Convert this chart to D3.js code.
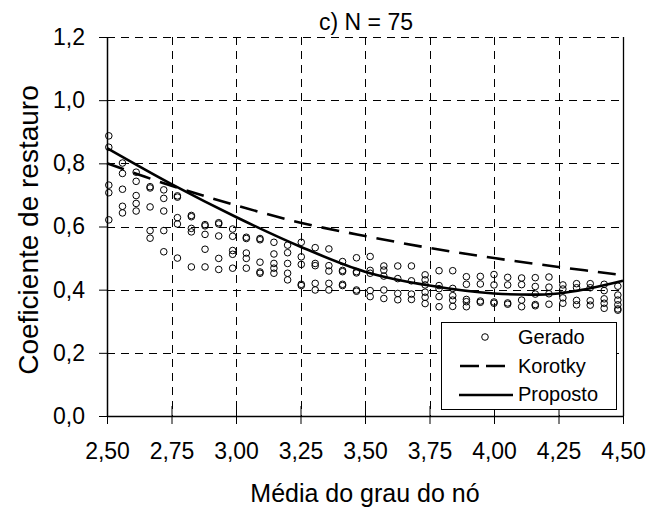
<!DOCTYPE html>
<html>
<head>
<meta charset="utf-8">
<script src="https://cdn.jsdelivr.net/npm/d3@7"></script>
<style>
  html, body { margin: 0; padding: 0; background: #fff; }
  svg { display: block; font-family: "Liberation Sans", Arial, sans-serif; }
</style>
</head>
<body>
<svg id="chart" width="650" height="510"></svg>
<script>
// Mean node degree of each generated network group (x columns)
const degreeColumns = [2.507, 2.560, 2.613, 2.667, 2.720, 2.773, 2.827, 2.880, 2.933, 2.987,
  3.040, 3.093, 3.147, 3.200, 3.253, 3.307, 3.360, 3.413, 3.467, 3.520,
  3.573, 3.627, 3.680, 3.733, 3.787, 3.840, 3.893, 3.947, 4.000, 4.053,
  4.107, 4.160, 4.213, 4.267, 4.320, 4.373, 4.427, 4.480];

// Restoration coefficient of the generated networks, one list per column
const geradoValues = [
  [0.887, 0.851, 0.731, 0.707, 0.621],
  [0.801, 0.768, 0.718, 0.664, 0.643],
  [0.772, 0.743, 0.698, 0.673, 0.649],
  [0.726, 0.722, 0.662, 0.587, 0.563],
  [0.716, 0.689, 0.649, 0.587, 0.520],
  [0.697, 0.693, 0.628, 0.608, 0.500],
  [0.635, 0.631, 0.594, 0.583, 0.472],
  [0.606, 0.602, 0.575, 0.528, 0.472],
  [0.612, 0.608, 0.570, 0.499, 0.464],
  [0.592, 0.569, 0.524, 0.512, 0.468],
  [0.566, 0.562, 0.516, 0.499, 0.468],
  [0.562, 0.558, 0.487, 0.456, 0.452],
  [0.550, 0.513, 0.483, 0.468, 0.452],
  [0.541, 0.517, 0.483, 0.452, 0.431],
  [0.550, 0.504, 0.480, 0.417, 0.413],
  [0.533, 0.483, 0.476, 0.420, 0.399],
  [0.529, 0.476, 0.459, 0.420, 0.399],
  [0.489, 0.461, 0.457, 0.417, 0.413],
  [0.501, 0.457, 0.453, 0.399, 0.395],
  [0.505, 0.461, 0.452, 0.397, 0.378],
  [0.475, 0.462, 0.443, 0.399, 0.372],
  [0.475, 0.435, 0.388, 0.368],
  [0.475, 0.428, 0.386, 0.369],
  [0.447, 0.431, 0.415, 0.392, 0.376, 0.356],
  [0.460, 0.413, 0.403, 0.378, 0.346],
  [0.460, 0.404, 0.381, 0.367, 0.347],
  [0.441, 0.417, 0.369, 0.362, 0.346],
  [0.442, 0.418, 0.364, 0.360],
  [0.448, 0.415, 0.361, 0.357],
  [0.439, 0.415, 0.358, 0.354],
  [0.437, 0.416, 0.367, 0.346],
  [0.438, 0.410, 0.386, 0.353, 0.349],
  [0.440, 0.408, 0.387, 0.354],
  [0.415, 0.402, 0.374, 0.357],
  [0.419, 0.406, 0.366, 0.352],
  [0.419, 0.406, 0.365, 0.351],
  [0.417, 0.397, 0.371, 0.357, 0.341],
  [0.411, 0.383, 0.367, 0.352, 0.339, 0.335]
];

// Model curves
const curveDegree = [2.50, 2.75, 3.00, 3.25, 3.50, 3.75, 4.00, 4.25, 4.50];
const korotkyValues = [0.800, 0.729, 0.667, 0.612, 0.570, 0.532, 0.500, 0.472, 0.446];
const propostoValues = [0.848, 0.734, 0.630, 0.536, 0.457, 0.413, 0.388, 0.388, 0.428];

// Axis ticks
const xTicks = [2.50, 2.75, 3.00, 3.25, 3.50, 3.75, 4.00, 4.25, 4.50];
const yTicks = [0.0, 0.2, 0.4, 0.6, 0.8, 1.0, 1.2];

const titleText = "c) N = 75";
const xTitle = "Média do grau do nó";
const yTitle = "Coeficiente de restauro";
const legendLabels = ["Gerado", "Korotky", "Proposto"];

const locale = d3.formatLocale({ decimal: ",", thousands: ".", grouping: [3], currency: ["", ""] });
const fmtX = locale.format(".2f");
const fmtY = locale.format(".1f");

const svg = d3.select("#chart");
const L = 107, R = 623, T = 37, B = 416;

const x = d3.scaleLinear().domain([2.5, 4.5]).range([L, R]);
const y = d3.scaleLinear().domain([0, 1.2]).range([B, T]);

// Dashed grid
const grid = svg.append("g").attr("stroke", "#000").attr("stroke-width", 1)
  .attr("stroke-dasharray", "8,6").attr("fill", "none");
grid.selectAll("line.v").data(xTicks.slice(1, -1)).join("line")
  .attr("x1", d => Math.round(x(d)) + 0.5).attr("x2", d => Math.round(x(d)) + 0.5)
  .attr("y1", T).attr("y2", B);
grid.selectAll("line.h").data(yTicks.slice(1)).join("line")
  .attr("y1", d => Math.round(y(d)) + 0.5).attr("y2", d => Math.round(y(d)) + 0.5)
  .attr("x1", L).attr("x2", R);

// Right frame edge
svg.append("line").attr("x1", R + 0.5).attr("x2", R + 0.5).attr("y1", T).attr("y2", B)
  .attr("stroke", "#000").attr("stroke-width", 1.3);

// Axes
const xAxis = svg.append("g").attr("transform", `translate(0,${B})`)
  .call(d3.axisBottom(x).tickValues(xTicks).tickFormat(fmtX).tickSize(8).tickSizeOuter(0).tickPadding(19));
// x ticks cross the axis line
xAxis.selectAll(".tick").append("line").attr("y1", 0).attr("y2", -10);
const yAxis = svg.append("g").attr("transform", `translate(${L},0)`)
  .call(d3.axisLeft(y).tickValues(yTicks).tickFormat(fmtY).tickSize(8).tickSizeOuter(0).tickPadding(14));
[xAxis, yAxis].forEach(a => {
  a.select(".domain").attr("stroke", "#000").attr("stroke-width", 1.5);
  a.selectAll(".tick line").attr("stroke", "#000").attr("stroke-width", 1);
  a.selectAll(".tick text").attr("fill", "#000").attr("font-size", 23)
    .attr("font-family", "'Liberation Sans', Arial, sans-serif");
});

// Generated points
const pts = [];
degreeColumns.forEach((d, i) => geradoValues[i].forEach(v => pts.push([d, v])));
svg.append("g").selectAll("circle").data(pts).join("circle")
  .attr("cx", d => x(d[0])).attr("cy", d => y(d[1])).attr("r", 3.3)
  .attr("fill", "none").attr("stroke", "#000").attr("stroke-width", 1);

// Model curves
const lineGen = d3.line().x(d => x(d[0])).y(d => y(d[1])).curve(d3.curveCatmullRom);
svg.append("path").datum(curveDegree.map((d, i) => [d, korotkyValues[i]]))
  .attr("d", lineGen).attr("fill", "none").attr("stroke", "#000")
  .attr("stroke-width", 2.6).attr("stroke-dasharray", "18,10");
svg.append("path").datum(curveDegree.map((d, i) => [d, propostoValues[i]]))
  .attr("d", lineGen).attr("fill", "none").attr("stroke", "#000")
  .attr("stroke-width", 2.6);

// Titles
svg.append("text").attr("x", 366).attr("y", 30).attr("text-anchor", "middle")
  .attr("font-size", 23).attr("fill", "#000").text(titleText);
svg.append("text").attr("x", 365).attr("y", 502).attr("text-anchor", "middle")
  .attr("font-size", 25).attr("fill", "#000").text(xTitle);
svg.append("text").attr("transform", "translate(38,230) rotate(-90)").attr("text-anchor", "middle")
  .attr("font-size", 28).attr("fill", "#000").text(yTitle);

// Legend
const lg = svg.append("g");
lg.append("rect").attr("x", 441.5).attr("y", 322.5).attr("width", 175).attr("height", 87)
  .attr("fill", "#fff").attr("stroke", "#000").attr("stroke-width", 1);
lg.append("circle").attr("cx", 485).attr("cy", 337).attr("r", 3.3)
  .attr("fill", "none").attr("stroke", "#000").attr("stroke-width", 1);
lg.append("line").attr("x1", 460).attr("x2", 508).attr("y1", 366).attr("y2", 366)
  .attr("stroke", "#000").attr("stroke-width", 2.6).attr("stroke-dasharray", "19,7");
lg.append("line").attr("x1", 459).attr("x2", 513).attr("y1", 395).attr("y2", 395)
  .attr("stroke", "#000").attr("stroke-width", 2.6);
lg.selectAll("text").data(legendLabels).join("text")
  .attr("x", 518).attr("y", (d, i) => 344 + i * 28.5)
  .attr("font-size", 20).attr("fill", "#000").text(d => d);
</script>
</body>
</html>
